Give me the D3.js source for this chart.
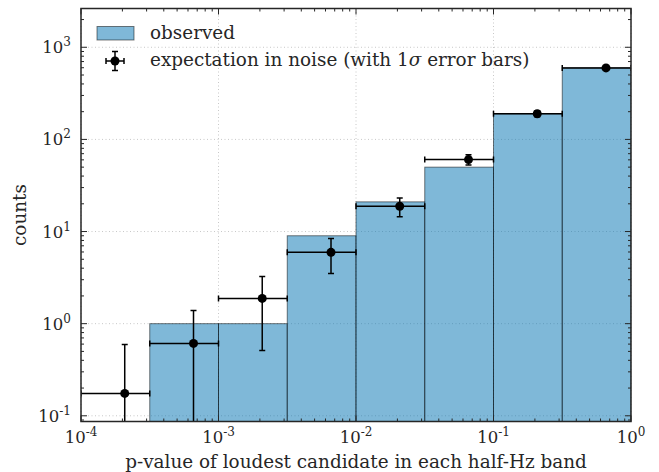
<!DOCTYPE html>
<html>
<head>
<meta charset="utf-8">
<script src="https://cdn.jsdelivr.net/npm/d3@7"></script>
<style>
  body { margin: 0; background: #fff; }
  text { font-family: "DejaVu Serif", serif; fill: #262626; }
</style>
</head>
<body>
<div id="chart-area"></div>
<script>
// histogram of loudest-candidate p-values (half-decade bins)
var binLo = [1e-4, 3.162e-4, 1e-3, 3.162e-3, 1e-2, 3.162e-2, 0.1, 0.3162];
var binHi = [3.162e-4, 1e-3, 3.162e-3, 1e-2, 3.162e-2, 0.1, 0.3162, 1];
var observed = [0, 1, 1, 9, 21, 50, 190, 600];
var expectX = [2.08e-4, 6.58e-4, 2.08e-3, 6.58e-3, 0.0208, 0.0658, 0.208, 0.658];
var expected = [0.175, 0.61, 1.88, 5.95, 18.8, 60.4, 190, 597];
var sigma = [0.42, 0.78, 1.37, 2.45, 4.3, 7.8, 13.8, 24.5];
var xTicks = [-4, -3, -2, -1, 0];
var yTicks = [-1, 0, 1, 2, 3];

var W = 659, H = 472;
var margin = { left: 81, right: 28, top: 8.5, bottom: 50.5 };
var width = W - margin.left - margin.right,
    height = H - margin.top - margin.bottom;

var svg = d3.select("#chart-area").append("svg")
    .attr("width", W).attr("height", H);

var g = svg.append("g")
    .attr("transform", "translate(" + margin.left + "," + margin.top + ")");

var x = d3.scaleLog().domain([1e-4, 1]).range([0, width]);
var y = d3.scaleLog().domain([0.0867, 2636]).range([height, 0]);

svg.append("defs").append("clipPath").attr("id", "clip")
  .append("rect").attr("width", width).attr("height", height);

// grid
g.selectAll(".gx").data(xTicks).enter().append("line")
  .attr("x1", d => x(Math.pow(10, d))).attr("x2", d => x(Math.pow(10, d)))
  .attr("y1", 0).attr("y2", height)
  .attr("stroke", "#c8c8c8").attr("stroke-dasharray", "1,2.5");
g.selectAll(".gy").data(yTicks).enter().append("line")
  .attr("y1", d => y(Math.pow(10, d))).attr("y2", d => y(Math.pow(10, d)))
  .attr("x1", 0).attr("x2", width)
  .attr("stroke", "#c8c8c8").attr("stroke-dasharray", "1,2.5");

var plot = g.append("g").attr("clip-path", "url(#clip)");

// bars
var bins = observed.map((v, i) => ({ lo: binLo[i], hi: binHi[i], v: v }))
  .filter(d => d.v > 0);
plot.selectAll("rect.bar").data(bins).enter().append("rect")
  .attr("class", "bar")
  .attr("x", d => x(d.lo))
  .attr("width", d => x(d.hi) - x(d.lo))
  .attr("y", d => y(d.v))
  .attr("height", d => height + 5 - y(d.v))
  .attr("fill", "#0072B2").attr("fill-opacity", 0.5)
  .attr("stroke", "#000").attr("stroke-opacity", 0.5).attr("stroke-width", 1);

// error bars
var pts = expected.map((v, i) => ({ x: expectX[i], lo: binLo[i], hi: binHi[i], v: v, s: sigma[i] }));
var eb = plot.selectAll("g.eb").data(pts).enter().append("g").attr("class", "eb")
  .attr("stroke", "#000").attr("stroke-width", 1.5);
var yLow = d => (d.v - d.s > 0 ? y(d.v - d.s) : height + 10);
eb.append("line")
  .attr("x1", d => x(d.lo)).attr("x2", d => x(d.hi))
  .attr("y1", d => y(d.v)).attr("y2", d => y(d.v));
eb.append("line")
  .attr("x1", d => x(d.lo)).attr("x2", d => x(d.lo))
  .attr("y1", d => y(d.v) - 3).attr("y2", d => y(d.v) + 3);
eb.append("line")
  .attr("x1", d => x(d.hi)).attr("x2", d => x(d.hi))
  .attr("y1", d => y(d.v) - 3).attr("y2", d => y(d.v) + 3);
eb.append("line")
  .attr("x1", d => x(d.x)).attr("x2", d => x(d.x))
  .attr("y1", d => y(d.v + d.s)).attr("y2", yLow);
eb.append("line")
  .attr("x1", d => x(d.x) - 3).attr("x2", d => x(d.x) + 3)
  .attr("y1", d => y(d.v + d.s)).attr("y2", d => y(d.v + d.s));
eb.filter(d => d.v - d.s > 0).append("line")
  .attr("x1", d => x(d.x) - 3).attr("x2", d => x(d.x) + 3)
  .attr("y1", d => y(d.v - d.s)).attr("y2", d => y(d.v - d.s));
plot.selectAll("circle.pt").data(pts).enter().append("circle")
  .attr("cx", d => x(d.x)).attr("cy", d => y(d.v)).attr("r", 4.5)
  .attr("fill", "#000");

// ticks (inward, all four sides)
function minorLog(dom) {
  var out = [];
  for (var e = Math.floor(Math.log10(dom[0])); e <= Math.ceil(Math.log10(dom[1])); e++) {
    for (var m = 1; m < 10; m++) {
      var v = m * Math.pow(10, e);
      if (v >= dom[0] && v <= dom[1]) out.push({ v: v, major: m === 1 });
    }
  }
  return out;
}
var tx = minorLog(x.domain()), ty = minorLog(y.domain());
var tk = g.append("g").attr("stroke", "#262626").attr("stroke-width", 1);
[0, height].forEach(function (y0) {
  var dir = y0 === 0 ? 1 : -1;
  tk.selectAll(null).data(tx).enter().append("line")
    .attr("x1", d => x(d.v)).attr("x2", d => x(d.v))
    .attr("y1", y0).attr("y2", d => y0 + dir * (d.major ? 6 : 3));
});
[0, width].forEach(function (x0) {
  var dir = x0 === 0 ? 1 : -1;
  tk.selectAll(null).data(ty).enter().append("line")
    .attr("y1", d => y(d.v)).attr("y2", d => y(d.v))
    .attr("x1", x0).attr("x2", d => x0 + dir * (d.major ? 6 : 3));
});

// frame
g.append("rect").attr("width", width).attr("height", height)
  .attr("fill", "none").attr("stroke", "#262626").attr("stroke-width", 1.5);

// tick labels
function powLabel(sel, e) {
  sel.append("tspan").text("10");
  sel.append("tspan").attr("dy", -7).attr("font-size", "12px").text(String(e));
}
g.selectAll("text.xl").data(xTicks).enter().append("text")
  .attr("x", d => x(Math.pow(10, d)))
  .attr("y", height + 21.5)
  .attr("text-anchor", "middle").attr("font-size", "16.5px")
  .each(function (d) { powLabel(d3.select(this), d); });
g.selectAll("text.yl").data(yTicks).enter().append("text")
  .attr("x", -10)
  .attr("y", d => y(Math.pow(10, d)) + 6)
  .attr("text-anchor", "end").attr("font-size", "16.5px")
  .each(function (d) { powLabel(d3.select(this), d); });

// axis labels
g.append("text")
  .attr("x", width / 2).attr("y", height + 46)
  .attr("text-anchor", "middle").attr("font-size", "18.4px")
  .text("p-value of loudest candidate in each half-Hz band");
g.append("text")
  .attr("transform", "rotate(-90)")
  .attr("x", -height / 2).attr("y", -55)
  .attr("text-anchor", "middle").attr("font-size", "18.4px")
  .text("counts");

// legend
var lg = svg.append("g");
lg.append("rect").attr("x", 97).attr("y", 26.5).attr("width", 37).attr("height", 13.5)
  .attr("fill", "#0072B2").attr("fill-opacity", 0.5)
  .attr("stroke", "#000").attr("stroke-opacity", 0.5);
lg.append("text").attr("x", 150).attr("y", 39).attr("font-size", "18.4px").text("observed");
var lm = lg.append("g").attr("stroke", "#000").attr("stroke-width", 1.5);
lm.append("line").attr("x1", 106).attr("x2", 124).attr("y1", 61).attr("y2", 61);
lm.append("line").attr("x1", 106).attr("x2", 106).attr("y1", 58).attr("y2", 64);
lm.append("line").attr("x1", 124).attr("x2", 124).attr("y1", 58).attr("y2", 64);
lm.append("line").attr("x1", 115).attr("x2", 115).attr("y1", 51.5).attr("y2", 70.5);
lm.append("line").attr("x1", 112).attr("x2", 118).attr("y1", 51.5).attr("y2", 51.5);
lm.append("line").attr("x1", 112).attr("x2", 118).attr("y1", 70.5).attr("y2", 70.5);
lg.append("circle").attr("cx", 115).attr("cy", 61).attr("r", 4.5).attr("fill", "#000");
var lt = lg.append("text").attr("x", 150).attr("y", 65.5).attr("font-size", "18.4px");
lt.append("tspan").text("expectation in noise (with 1");
lt.append("tspan").attr("font-style", "italic").text("σ");
lt.append("tspan").text(" error bars)");
</script>
</body>
</html>
